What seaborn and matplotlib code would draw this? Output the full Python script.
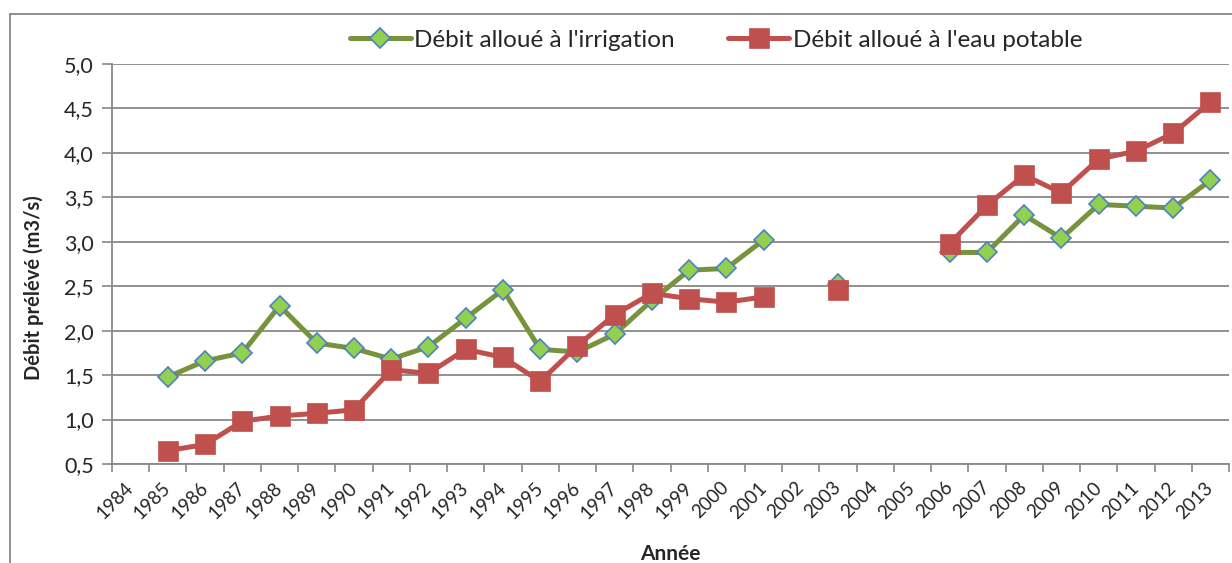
import numpy as np
import pandas as pd
import matplotlib
matplotlib.use("Agg")
import matplotlib.pyplot as plt
from matplotlib.lines import Line2D
import seaborn as sns

# data (None = no value that year)
years = list(range(1984, 2014))
irrigation = [None, 1.48, 1.66, 1.75, 2.28, 1.86, 1.80, 1.68, 1.82, 2.14, 2.46,
              1.79, 1.76, 1.96, 2.34, 2.68, 2.70, 3.02, None, 2.52, None, None,
              2.88, 2.88, 3.30, 3.04, 3.42, 3.40, 3.38, 3.69]
potable = [None, 0.65, 0.72, 0.98, 1.04, 1.07, 1.11, 1.56, 1.52, 1.79, 1.70,
           1.43, 1.83, 2.18, 2.42, 2.36, 2.32, 2.38, None, 2.46, None, None,
           2.98, 3.41, 3.75, 3.55, 3.93, 4.02, 4.22, 4.57]
y_ticks = [0.5, 1.0, 1.5, 2.0, 2.5, 3.0, 3.5, 4.0, 4.5, 5.0]
y_labels = ["0,5", "1,0", "1,5", "2,0", "2,5", "3,0", "3,5", "4,0", "4,5", "5,0"]
label_irr = "Débit alloué à l'irrigation"
label_pot = "Débit alloué à l'eau potable"

GREEN = "#77933C"
GREEN_FACE = "#92D050"
BLUE_EDGE = "#4F81BD"
RED = "#C0504D"
GRAY = "#888888"


def to_segments(values):
    # break the series on missing years so gaps stay open
    rows, seg = [], 0
    for yr, v in zip(years, values):
        if v is None:
            seg += 1
            continue
        rows.append({"year": yr, "value": v, "seg": seg})
    return pd.DataFrame(rows)


df_irr = to_segments(irrigation)
df_pot = to_segments(potable)

sns.set_style("white")
plt.rcParams["font.family"] = ["Lato", "DejaVu Sans"]

fig = plt.figure(figsize=(12.32, 5.63), dpi=100)
ax = fig.add_axes([112 / 1232, 1 - 464 / 563, (1229 - 112) / 1232, 400 / 563])

irr_style = dict(color=GREEN, linewidth=3.6, marker="D", markersize=9.8,
                 markerfacecolor=GREEN_FACE, markeredgecolor=BLUE_EDGE,
                 markeredgewidth=1.2)
pot_style = dict(color=RED, linewidth=3.6, marker="s", markersize=14,
                 markerfacecolor=RED, markeredgecolor=RED, markeredgewidth=0.5)

sns.lineplot(data=df_irr, x="year", y="value", units="seg", estimator=None,
             ax=ax, legend=False, zorder=3, **irr_style)
sns.lineplot(data=df_pot, x="year", y="value", units="seg", estimator=None,
             ax=ax, legend=False, zorder=4, **pot_style)

ax.set_xlim(years[0] - 0.5, years[-1] + 0.5)
ax.set_ylim(y_ticks[0], y_ticks[-1])
ax.set_yticks(y_ticks)
ax.set_yticklabels(y_labels, fontsize=15.5)
ax.yaxis.grid(True, color=GRAY, linewidth=1.3)
ax.set_axisbelow(True)
ax.tick_params(axis="y", direction="out", length=7, width=1.2, color=GRAY,
               pad=6, left=True)

# category boundaries as major ticks, year labels on minor ticks
ax.set_xticks(np.arange(years[0] - 0.5, years[-1] + 1, 1.0))
ax.set_xticklabels([])
ax.set_xticks(years, minor=True)
ax.set_xticklabels([str(y) for y in years], minor=True, rotation=45,
                   ha="right", va="center", rotation_mode="anchor", fontsize=13.5)
ax.tick_params(axis="x", which="major", direction="out", length=6, width=1.2,
               color=GRAY, bottom=True)
ax.tick_params(axis="x", which="minor", length=0, pad=15)

for side in ["top", "right"]:
    ax.spines[side].set_visible(False)
for side in ["left", "bottom"]:
    ax.spines[side].set_color(GRAY)
    ax.spines[side].set_linewidth(1.3)

ax.set_xlabel("Année", fontsize=15, fontweight="bold")
ax.set_ylabel("Débit prélévé (m3/s)", fontsize=14.5, fontweight="bold")
ax.xaxis.set_label_coords(0.5, -0.2)
ax.yaxis.set_label_coords(-0.061, 0.44)

handles = [Line2D([], [], **irr_style), Line2D([], [], **pot_style)]
fig.legend(handles, [label_irr, label_pot], loc="center",
           bbox_to_anchor=(716 / 1232, 1 - 40 / 563), ncol=2, frameon=False,
           fontsize=17.5, handlelength=2.5, handletextpad=0.15,
           columnspacing=2.2)

# chart border (only top and left edges fall inside the image)
fig.add_artist(Line2D([10 / 1232, 10 / 1232], [0, 1 - 14 / 563],
                      transform=fig.transFigure, color=GRAY, linewidth=1.3))
fig.add_artist(Line2D([10 / 1232, 1], [1 - 14 / 563, 1 - 14 / 563],
                      transform=fig.transFigure, color=GRAY, linewidth=1.3))

fig.savefig("out.png", dpi=100)
